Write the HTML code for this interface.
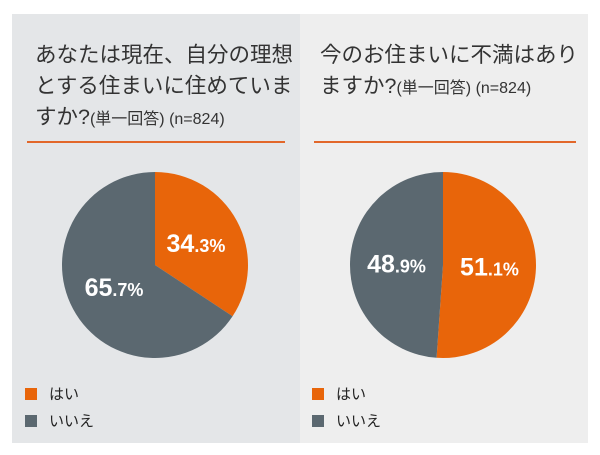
<!DOCTYPE html>
<html><head><meta charset="utf-8"><style>
body{margin:0;width:600px;height:455px;background:#fff;position:relative;overflow:hidden;font-family:"Liberation Sans","Noto Sans CJK JP",sans-serif}
.panel{position:absolute;top:14px;height:429px}
.title{position:absolute;font-size:21.5px;line-height:31px;color:#333}
.title small{font-size:16px}
.rule{position:absolute;height:2px;background:#e2672a}
.leg{position:absolute;font-size:15px;color:#222;display:flex;align-items:center}
.leg i{display:inline-block;width:12px;height:12px;margin-right:12px}
svg{position:absolute;left:0;top:0}
</style></head><body>
<div class="panel" style="left:12px;width:288px;background:#e4e6e8"></div>
<div class="panel" style="left:300px;width:288px;background:#eeeeee"></div>
<div class="title" style="left:35px;top:40px">あなたは現在、自分の理想<br>とする住まいに住めていま<br>すか?<small>(単一回答) (n=824)</small></div>
<div class="title" style="left:320px;top:40px">今のお住まいに不満はあり<br>ますか?<small>(単一回答) (n=824)</small></div>
<div class="rule" style="left:27px;top:141px;width:258px"></div>
<div class="rule" style="left:314px;top:141px;width:262px"></div>
<svg width="600" height="455" id="chart"></svg>
<div class="leg" style="left:25px;top:383px"><i style="background:#e8650a"></i>はい</div>
<div class="leg" style="left:25px;top:410px"><i style="background:#5b6870"></i>いいえ</div>
<div class="leg" style="left:312px;top:383px"><i style="background:#e8650a"></i>はい</div>
<div class="leg" style="left:312px;top:410px"><i style="background:#5b6870"></i>いいえ</div>
<script>
const categories=["はい","いいえ"];
const leftValues=[34.3,65.7];
const rightValues=[51.1,48.9];
const colors=["#e8650a","#5b6870"];
const NS="http://www.w3.org/2000/svg";
const svg=document.getElementById('chart');
function pie(cx,cy,r,vals,prefix){
  const tot=vals.reduce((a,b)=>a+b,0);let a0=0;
  vals.forEach((v,i)=>{
    const a1=a0+v/tot*2*Math.PI;
    const x0=cx+r*Math.sin(a0),y0=cy-r*Math.cos(a0),x1=cx+r*Math.sin(a1),y1=cy-r*Math.cos(a1);
    const p=document.createElementNS(NS,'path');
    p.setAttribute('d',`M${cx},${cy}L${x0},${y0}A${r},${r} 0 ${a1-a0>Math.PI?1:0} 1 ${x1},${y1}Z`);
    p.setAttribute('fill',colors[i]);
    
    
    svg.appendChild(p);
    const m=(a0+a1)/2, d=r*0.5;
    const t=document.createElementNS(NS,'text');
    t.setAttribute('x',cx+d*Math.sin(m));t.setAttribute('y',cy-d*Math.cos(m)+9);
    t.setAttribute('text-anchor','middle');t.setAttribute('fill','#fff');
    t.setAttribute('font-weight','bold');t.setAttribute('font-size','25');
    t.setAttribute('font-family','"Liberation Sans",sans-serif');
    const parts=v.toFixed(1).split('.');
    t.innerHTML=`${parts[0]}<tspan font-size="18">.${parts[1]}%</tspan>`;
    
    
    svg.appendChild(t);
    a0=a1;
  });
}
pie(155,265,93,leftValues,'left');
pie(443,265,93,rightValues,'right');
</script>
</body></html>
